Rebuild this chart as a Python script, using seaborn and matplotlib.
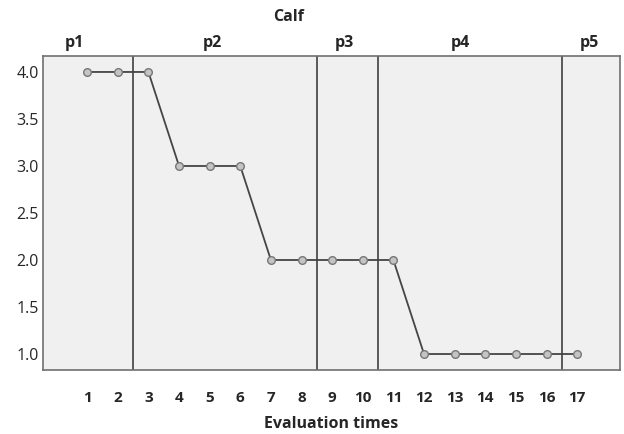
import pandas as pd
import matplotlib.pyplot as plt
import seaborn as sns

times = list(range(1, 18))
scores = [4, 4, 4, 3, 3, 3, 2, 2, 2, 2, 2, 1, 1, 1, 1, 1, 1]
period_breaks = [2.5, 8.5, 10.5, 16.5]
period_labels = ["p1", "p2", "p3", "p4", "p5"]
period_label_x = [0.6, 5.1, 9.4, 13.2, 17.4]
y_ticks = [1.0, 1.5, 2.0, 2.5, 3.0, 3.5, 4.0]

df = pd.DataFrame({"Evaluation times": times, "Score": scores})

sns.set_style("white")
plt.rcParams['font.family'] = ['Open Sans', 'DejaVu Sans']

fig = plt.figure(figsize=(6.24, 4.34), dpi=100)
ax = fig.add_axes([0.069, 0.1475, 0.9246, 0.7235])
ax.set_facecolor("#f0f0f0")

sns.lineplot(data=df, x="Evaluation times", y="Score", ax=ax, color="#454545",
             linewidth=1.3, marker="o", markersize=5.5, markerfacecolor="#c4c4c4",
             markeredgecolor="#777777", markeredgewidth=1)

for b in period_breaks:
    ax.axvline(b, color="#404040", linewidth=1.2)

ax.set_xlim(-0.44, 18.4)
ax.set_ylim(0.83, 4.17)
ax.set_xticks(times)
ax.set_xticklabels([str(t) for t in times], fontweight="bold", fontsize=11)
ax.set_yticks(y_ticks)
ax.set_yticklabels([f"{v:.1f}" for v in y_ticks], fontsize=11.5)
ax.tick_params(axis="x", direction="out", length=4, width=1, color="#555555", pad=11)
ax.tick_params(axis="y", direction="out", length=2, width=1, color="#555555", pad=1)
ax.set_xlabel("Evaluation times", fontweight="bold", fontsize=11.5, labelpad=8)
ax.set_ylabel("")

for s in ax.spines.values():
    s.set_color("#707070")
    s.set_linewidth(1.2)

for lab, x in zip(period_labels, period_label_x):
    ax.text(x, 1.015, lab, transform=ax.get_xaxis_transform(), ha="center",
            va="bottom", fontweight="bold", fontsize=11.5)

ax.text(7.57, 1.1, "Calf", transform=ax.get_xaxis_transform(), ha="center",
        va="bottom", fontweight="bold", fontsize=11.5)

plt.savefig("out.png", dpi=100)
